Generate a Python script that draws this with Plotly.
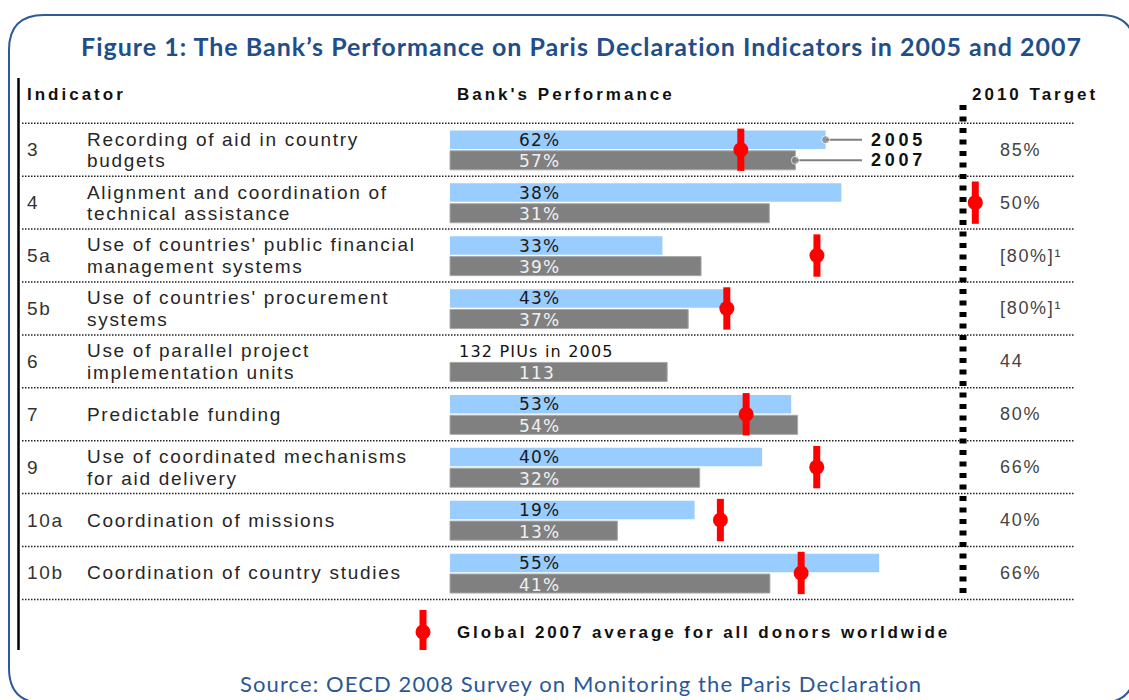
import plotly.graph_objects as go

W, H = 1129, 700

# ---------------- data ----------------
indicator_ids = ["3", "4", "5a", "5b", "6", "7", "9", "10a", "10b"]
indicator_names = [
    "Recording of aid in country\nbudgets",
    "Alignment and coordination of\ntechnical assistance",
    "Use of countries' public financial\nmanagement systems",
    "Use of countries' procurement\nsystems",
    "Use of parallel project\nimplementation units",
    "Predictable funding",
    "Use of coordinated mechanisms\nfor aid delivery",
    "Coordination of missions",
    "Coordination of country studies",
]
perf_2005 = [62, 38, 33, 43, None, 53, 40, 19, 55]
perf_2007 = [57, 31, 39, 37, 113, 54, 32, 13, 41]
piu_2005 = 132
units = ["%", "%", "%", "%", "", "%", "%", "%", "%"]
target_labels = ["85%", "50%", "[80%]¹", "[80%]¹", "44", "80%", "66%", "40%", "66%"]
# value that fills the whole bar scale (the 2010 target for % indicators)
scale_full = [85, 50, 80, 80, 268, 80, 66, 40, 66]
global_avg_2007 = [48, 51, 57, 43, None, 46, 47, 21, 45]

# ---------------- layout helpers ----------------
X_ZERO_PX, X_SCALE_PX = 450, 515
ROW0_PX, ROW_PX = 149.75, 52.9


def xd(p):
    return (p - X_ZERO_PX) / X_SCALE_PX


def yd(p):
    return (p - ROW0_PX) / ROW_PX


def xp(p):
    return p / W


def yp(p):
    return 1 - p / H


def ls(t, s):
    return f'<span style="letter-spacing:{s}px">{t}</span>'


SANS = "Liberation Sans, Arial, sans-serif"
VERD = "DejaVu Sans, Verdana, sans-serif"
CAL = "Lato, Calibri, sans-serif"

n = len(indicator_ids)
rows = list(range(n))
OFF05, OFF07 = -0.19, 0.20

fig = go.Figure()

# 2005 bars
b05_y = [i + OFF05 for i in rows if perf_2005[i] is not None]
b05_x = [perf_2005[i] / scale_full[i] for i in rows if perf_2005[i] is not None]
fig.add_trace(go.Bar(x=b05_x, y=b05_y, orientation="h", width=0.35, base=0,
                     marker=dict(color="#99CCFF", line=dict(width=0)),
                     hoverinfo="skip", showlegend=False))
# 2007 bars
b07_y = [i + OFF07 for i in rows]
b07_x = [perf_2007[i] / scale_full[i] for i in rows]
fig.add_trace(go.Bar(x=b07_x, y=b07_y, orientation="h", width=0.36, base=0,
                     marker=dict(color="#808080", line=dict(width=1, color="#A8A8A8")),
                     hoverinfo="skip", showlegend=False))

# callout lines for 2005 / 2007
cx05 = perf_2005[0] / scale_full[0]
cx07 = perf_2007[0] / scale_full[0]
for cx, cy in [(cx05, OFF05), (cx07, OFF07)]:
    fig.add_trace(go.Scatter(x=[cx, xd(862)], y=[cy, cy], mode="lines+markers",
                             line=dict(color="#808080", width=2),
                             marker=dict(size=[8, 0], color="#808080"),
                             hoverinfo="skip", showlegend=False))

# global averages
g_x = [global_avg_2007[i] / scale_full[i] for i in rows if global_avg_2007[i] is not None]
g_y = [i for i in rows if global_avg_2007[i] is not None]
fig.add_trace(go.Scatter(x=g_x, y=g_y, mode="markers",
                         marker=dict(symbol="circle", size=15, color="#FF0000"),
                         error_y=dict(type="data", array=[0.4] * len(g_y), symmetric=True,
                                      color="#FF0000", thickness=7, width=0),
                         hoverinfo="skip", showlegend=False))
# legend marker
fig.add_trace(go.Scatter(x=[xd(423)], y=[yd(632)], mode="markers",
                         marker=dict(symbol="circle", size=15, color="#FF0000"),
                         error_y=dict(type="data", array=[18 / ROW_PX], arrayminus=[22 / ROW_PX],
                                      symmetric=False, color="#FF0000", thickness=7, width=0),
                         hoverinfo="skip", showlegend=False))

ann = []
# title and source
ann.append(dict(x=xp(581), y=yp(46), xref="paper", yref="paper", showarrow=False,
                text="<b>" + ls("Figure 1: The Bank’s Performance on Paris Declaration Indicators in 2005 and 2007", 1) + "</b>",
                font=dict(family=CAL, size=25, color="#1F4E8A"), xanchor="center", yanchor="middle"))
ann.append(dict(x=xp(581), y=yp(683), xref="paper", yref="paper", showarrow=False,
                text=ls("Source: OECD 2008 Survey on Monitoring the Paris Declaration", 1.1),
                font=dict(family=CAL, size=22, color="#2B5797"), xanchor="center", yanchor="middle"))
# headers
for txt, x in [("Indicator", 25), ("Bank's Performance", 455), ("2010 Target", 970)]:
    ann.append(dict(x=xp(x), y=yp(95), xref="paper", yref="paper", showarrow=False,
                    text="<b>" + ls(txt, 3) + "</b>", font=dict(family=SANS, size=17, color="#111111"),
                    xanchor="left", yanchor="middle"))
# legend text
ann.append(dict(x=xp(455), y=yd(632), xref="paper", yref="y", showarrow=False,
                text="<b>" + ls("Global 2007 average for all donors worldwide", 2.9) + "</b>",
                font=dict(family=SANS, size=17, color="#111111"), xanchor="left", yanchor="middle"))
# callout texts
for txt, cy in [("2005", OFF05), ("2007", OFF07)]:
    ann.append(dict(x=xp(869), y=cy, xref="paper", yref="y", showarrow=False,
                    text="<b>" + ls(txt, 3.7) + "</b>", font=dict(family=SANS, size=18, color="#111111"),
                    xanchor="left", yanchor="middle"))

for i in rows:
    # indicator id
    ann.append(dict(x=xp(25), y=i, xref="paper", yref="y", showarrow=False,
                    text=ls(indicator_ids[i], 1.7), font=dict(family=SANS, size=19, color="#333333"),
                    xanchor="left", yanchor="middle"))
    lines = indicator_names[i].split("\n")
    offs = [-0.2, 0.21] if len(lines) == 2 else [0]
    for ln, o in zip(lines, offs):
        ann.append(dict(x=xp(85), y=i + o, xref="paper", yref="y", showarrow=False,
                        text=ls(ln, 1.7), font=dict(family=SANS, size=19, color="#262626"),
                        xanchor="left", yanchor="middle"))
    # target
    ann.append(dict(x=xp(998), y=i, xref="paper", yref="y", showarrow=False,
                    text=ls(target_labels[i], 1.7), font=dict(family=SANS, size=18, color="#444444"),
                    xanchor="left", yanchor="middle"))
    # bar labels
    if perf_2005[i] is not None:
        t05, x05, c05, sz = f"{perf_2005[i]}{units[i]}", 517, "#1A1A1A", 17
    else:
        t05, x05, c05, sz = f"{piu_2005} PIUs in 2005", 457, "#111111", 16
    ann.append(dict(x=xp(x05), y=i + OFF05, xref="paper", yref="y", showarrow=False,
                    text=ls(t05, 1.2), font=dict(family=VERD, size=sz, color=c05),
                    xanchor="left", yanchor="middle"))
    ann.append(dict(x=xp(517), y=i + OFF07 + 0.02, xref="paper", yref="y", showarrow=False,
                    text=ls(f"{perf_2007[i]}{units[i]}", 1.2), font=dict(family=VERD, size=17, color="#F0F0F0"),
                    xanchor="left", yanchor="middle"))

shapes = []
# horizontal dotted row separators
for k in range(n + 1):
    shapes.append(dict(type="line", xref="paper", yref="y", x0=xp(22), x1=xp(1075),
                       y0=k - 0.5, y1=k - 0.5, line=dict(color="#222222", width=1.5, dash="1.5px,1.5px")))
# target line (thick dotted)
shapes.append(dict(type="line", xref="x", yref="paper", x0=xd(963), x1=xd(963), y0=yp(105), y1=yp(595),
                   line=dict(color="#000000", width=7, dash="5px,6.5px")))
# left black rule
shapes.append(dict(type="line", xref="paper", yref="paper", x0=xp(18.5), x1=xp(18.5), y0=yp(78), y1=yp(650),
                   line=dict(color="#000000", width=2.5)))
# rounded frame
pts = [("M", 44, 15), ("L", 1100, 15), ("Q", 1135, 15, 1135, 50), ("L", 1135, 668),
       ("Q", 1135, 703, 1100, 703), ("L", 44, 703), ("Q", 9, 703, 9, 668), ("L", 9, 50),
       ("Q", 9, 15, 44, 15)]
path = ""
for p in pts:
    cmd, coords = p[0], p[1:]
    cs = []
    for j in range(0, len(coords), 2):
        cs.append(f"{xp(coords[j]):.5f},{yp(coords[j + 1]):.5f}")
    path += cmd + " " + " ".join(cs) + " "
path += "Z"
shapes.append(dict(type="path", xref="paper", yref="paper", path=path,
                   line=dict(color="#2F5A94", width=2), fillcolor="rgba(0,0,0,0)"))

fig.update_layout(
    width=W, height=H, margin=dict(l=0, r=0, t=0, b=0),
    paper_bgcolor="white", plot_bgcolor="white",
    barmode="overlay", showlegend=False,
    xaxis=dict(range=[xd(0), xd(W)], visible=False, fixedrange=True),
    yaxis=dict(range=[yd(H), yd(0)], visible=False, fixedrange=True),
    annotations=ann, shapes=shapes,
)

fig.write_html("out.html", config={"displayModeBar": False},
               post_script="document.body.style.margin='0';document.body.style.padding='0';"
                           "document.documentElement.style.overflow='hidden';")
